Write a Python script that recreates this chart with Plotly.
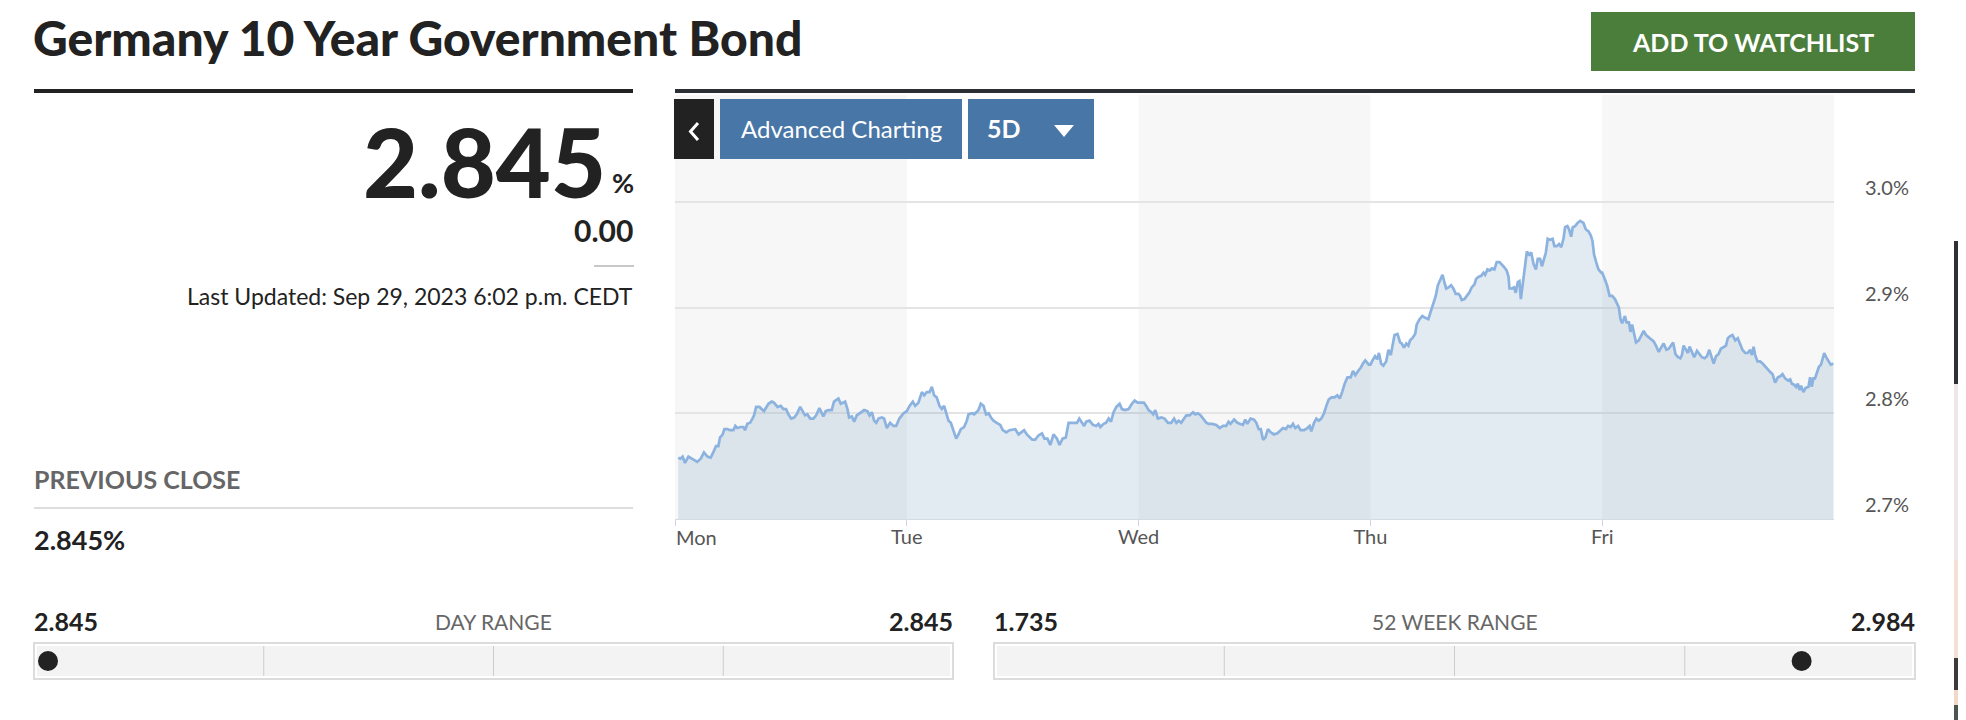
import plotly.graph_objects as go

# ---------------- data ----------------
day_labels = ["Mon", "Tue", "Wed", "Thu", "Fri"]

# position inside the day band (0..1) and yield in %
mon_pos = [0.014, 0.024, 0.033, 0.043, 0.058, 0.076, 0.096, 0.111, 0.125, 0.140,
           0.154, 0.165, 0.177, 0.187, 0.194, 0.206, 0.213, 0.226, 0.237, 0.252,
           0.260, 0.269, 0.283, 0.295, 0.302, 0.312, 0.324, 0.334, 0.341, 0.350,
           0.364, 0.384, 0.403, 0.417, 0.427, 0.442, 0.456, 0.468, 0.479, 0.489,
           0.501, 0.514, 0.525, 0.540, 0.551, 0.561, 0.571, 0.583, 0.597, 0.609,
           0.623, 0.633, 0.640, 0.650, 0.662, 0.676, 0.686, 0.705, 0.715, 0.724,
           0.734, 0.744, 0.751, 0.763, 0.773, 0.784, 0.799, 0.816, 0.830, 0.839,
           0.849, 0.859, 0.868, 0.878, 0.892, 0.902, 0.914, 0.928, 0.942, 0.954,
           0.968, 0.986]
mon_val = [2.758, 2.757, 2.759, 2.753, 2.759, 2.757, 2.754, 2.757, 2.763, 2.759,
           2.758, 2.763, 2.769, 2.769, 2.777, 2.780, 2.785, 2.785, 2.784, 2.784,
           2.788, 2.786, 2.787, 2.787, 2.784, 2.790, 2.791, 2.795, 2.798, 2.806,
           2.806, 2.802, 2.809, 2.811, 2.810, 2.806, 2.807, 2.804, 2.804, 2.799,
           2.795, 2.796, 2.799, 2.806, 2.801, 2.798, 2.799, 2.795, 2.795, 2.798,
           2.805, 2.801, 2.797, 2.802, 2.803, 2.803, 2.811, 2.814, 2.809, 2.810,
           2.811, 2.804, 2.796, 2.797, 2.792, 2.798, 2.800, 2.803, 2.802, 2.798,
           2.801, 2.793, 2.791, 2.795, 2.796, 2.795, 2.786, 2.791, 2.788, 2.788,
           2.795, 2.800]

tue_pos = [0.000, 0.012, 0.026, 0.036, 0.050, 0.065, 0.075, 0.086, 0.098, 0.108,
           0.118, 0.129, 0.141, 0.151, 0.161, 0.170, 0.180, 0.190, 0.201, 0.213,
           0.223, 0.233, 0.247, 0.259, 0.266, 0.281, 0.291, 0.302, 0.309, 0.319,
           0.331, 0.342, 0.353, 0.363, 0.374, 0.388, 0.403, 0.414, 0.429, 0.443,
           0.458, 0.468, 0.482, 0.492, 0.506, 0.518, 0.529, 0.541, 0.554, 0.568,
           0.583, 0.594, 0.607, 0.619, 0.633, 0.648, 0.659, 0.672, 0.686, 0.698,
           0.708, 0.719, 0.734, 0.744, 0.755, 0.765, 0.774, 0.788, 0.803, 0.817,
           0.827, 0.835, 0.849, 0.860, 0.871, 0.881, 0.892, 0.904, 0.918, 0.928,
           0.942, 0.957, 0.971, 0.983, 0.996]
tue_val = [2.802, 2.807, 2.811, 2.807, 2.810, 2.820, 2.817, 2.820, 2.820, 2.825,
           2.817, 2.815, 2.807, 2.804, 2.807, 2.799, 2.793, 2.791, 2.783, 2.776,
           2.780, 2.785, 2.787, 2.793, 2.799, 2.800, 2.799, 2.801, 2.803, 2.809,
           2.807, 2.799, 2.800, 2.796, 2.793, 2.791, 2.789, 2.784, 2.782, 2.784,
           2.785, 2.785, 2.780, 2.782, 2.784, 2.780, 2.778, 2.775, 2.775, 2.779,
           2.781, 2.776, 2.776, 2.770, 2.780, 2.776, 2.770, 2.776, 2.777, 2.791,
           2.791, 2.791, 2.791, 2.795, 2.791, 2.788, 2.792, 2.793, 2.789, 2.788,
           2.790, 2.787, 2.790, 2.791, 2.795, 2.792, 2.801, 2.806, 2.809, 2.804,
           2.803, 2.804, 2.809, 2.812, 2.810]

wed_pos = [0.004, 0.023, 0.033, 0.043, 0.055, 0.063, 0.072, 0.083, 0.098, 0.112,
           0.127, 0.141, 0.153, 0.163, 0.173, 0.184, 0.196, 0.206, 0.220, 0.235,
           0.245, 0.256, 0.268, 0.278, 0.292, 0.302, 0.317, 0.335, 0.350, 0.364,
           0.378, 0.388, 0.397, 0.412, 0.426, 0.436, 0.450, 0.460, 0.469, 0.483,
           0.498, 0.508, 0.518, 0.527, 0.537, 0.547, 0.558, 0.570, 0.584, 0.599,
           0.613, 0.623, 0.635, 0.645, 0.656, 0.666, 0.676, 0.688, 0.699, 0.714,
           0.728, 0.738, 0.745, 0.757, 0.767, 0.777, 0.788, 0.800, 0.810, 0.820,
           0.832, 0.846, 0.857, 0.868, 0.878, 0.889, 0.901, 0.915, 0.925, 0.935,
           0.947, 0.958, 0.968, 0.978, 0.993]
wed_val = [2.810, 2.810, 2.807, 2.803, 2.801, 2.799, 2.803, 2.795, 2.796, 2.795,
           2.791, 2.791, 2.795, 2.791, 2.793, 2.791, 2.795, 2.798, 2.798, 2.801,
           2.799, 2.800, 2.798, 2.795, 2.791, 2.790, 2.790, 2.789, 2.786, 2.788,
           2.788, 2.792, 2.790, 2.794, 2.791, 2.790, 2.789, 2.794, 2.790, 2.795,
           2.794, 2.791, 2.785, 2.785, 2.775, 2.777, 2.785, 2.782, 2.780, 2.781,
           2.784, 2.786, 2.785, 2.788, 2.787, 2.790, 2.786, 2.788, 2.784, 2.784,
           2.786, 2.788, 2.783, 2.791, 2.795, 2.793, 2.795, 2.800, 2.807, 2.813,
           2.815, 2.815, 2.817, 2.814, 2.820, 2.828, 2.834, 2.834, 2.840, 2.836,
           2.840, 2.843, 2.847, 2.850, 2.846]

thu_pos = [0.000, 0.009, 0.020, 0.029, 0.037, 0.046, 0.056, 0.068, 0.078, 0.088,
           0.096, 0.104, 0.117, 0.128, 0.135, 0.145, 0.155, 0.164, 0.171, 0.181,
           0.193, 0.200, 0.212, 0.224, 0.239, 0.250, 0.260, 0.272, 0.282, 0.291,
           0.301, 0.311, 0.319, 0.327, 0.337, 0.348, 0.358, 0.368, 0.380, 0.387,
           0.394, 0.406, 0.416, 0.426, 0.437, 0.449, 0.456, 0.466, 0.478, 0.488,
           0.495, 0.505, 0.514, 0.524, 0.535, 0.545, 0.557, 0.567, 0.578, 0.588,
           0.596, 0.600, 0.610, 0.620, 0.627, 0.636, 0.643, 0.649, 0.658, 0.668,
           0.675, 0.685, 0.694, 0.704, 0.714, 0.722, 0.732, 0.740, 0.750, 0.757,
           0.765, 0.775, 0.786, 0.794, 0.804, 0.814, 0.823, 0.833, 0.840, 0.850,
           0.857, 0.866, 0.873, 0.883, 0.894, 0.905, 0.919, 0.929, 0.941, 0.951,
           0.958, 0.965, 0.974, 0.984, 0.996]
thu_val = [2.846, 2.850, 2.854, 2.851, 2.857, 2.847, 2.845, 2.849, 2.860, 2.855,
           2.864, 2.874, 2.875, 2.867, 2.866, 2.862, 2.866, 2.864, 2.869, 2.871,
           2.875, 2.884, 2.889, 2.892, 2.890, 2.889, 2.896, 2.905, 2.911, 2.921,
           2.927, 2.931, 2.924, 2.918, 2.919, 2.921, 2.918, 2.913, 2.913, 2.911,
           2.907, 2.908, 2.911, 2.914, 2.919, 2.922, 2.927, 2.929, 2.930, 2.933,
           2.931, 2.936, 2.935, 2.937, 2.936, 2.943, 2.943, 2.941, 2.938, 2.935,
           2.929, 2.918, 2.918, 2.919, 2.914, 2.924, 2.925, 2.908, 2.922, 2.941,
           2.953, 2.950, 2.952, 2.941, 2.936, 2.946, 2.946, 2.939, 2.947, 2.952,
           2.965, 2.964, 2.965, 2.958, 2.958, 2.960, 2.957, 2.965, 2.976, 2.977,
           2.974, 2.967, 2.976, 2.977, 2.980, 2.982, 2.980, 2.974, 2.972, 2.968,
           2.963, 2.950, 2.943, 2.936, 2.933]

fri_pos = [0.000, 0.011, 0.021, 0.032, 0.043, 0.055, 0.065, 0.072, 0.079, 0.086,
           0.098, 0.105, 0.115, 0.122, 0.129, 0.136, 0.146, 0.158, 0.169, 0.179,
           0.189, 0.201, 0.212, 0.222, 0.232, 0.244, 0.254, 0.265, 0.277, 0.287,
           0.297, 0.306, 0.316, 0.327, 0.337, 0.344, 0.351, 0.362, 0.370, 0.377,
           0.387, 0.397, 0.409, 0.419, 0.430, 0.442, 0.452, 0.462, 0.471, 0.481,
           0.491, 0.502, 0.512, 0.524, 0.534, 0.542, 0.552, 0.562, 0.574, 0.585,
           0.595, 0.605, 0.617, 0.628, 0.638, 0.646, 0.653, 0.660, 0.670, 0.681,
           0.692, 0.703, 0.714, 0.725, 0.735, 0.746, 0.758, 0.768, 0.778, 0.789,
           0.801, 0.811, 0.818, 0.828, 0.836, 0.844, 0.851, 0.858, 0.868, 0.878,
           0.890, 0.897, 0.904, 0.911, 0.918, 0.925, 0.935, 0.944, 0.951, 0.958,
           0.966, 0.976, 0.986, 0.997]
fri_val = [2.933, 2.927, 2.921, 2.911, 2.911, 2.908, 2.904, 2.900, 2.889, 2.885,
           2.892, 2.886, 2.886, 2.877, 2.884, 2.878, 2.867, 2.869, 2.874, 2.878,
           2.874, 2.872, 2.870, 2.868, 2.864, 2.858, 2.862, 2.866, 2.860, 2.861,
           2.864, 2.867, 2.856, 2.853, 2.852, 2.855, 2.864, 2.860, 2.857, 2.863,
           2.858, 2.853, 2.859, 2.856, 2.853, 2.852, 2.854, 2.860, 2.853, 2.847,
           2.854, 2.856, 2.861, 2.863, 2.864, 2.871, 2.873, 2.874, 2.869, 2.871,
           2.866, 2.860, 2.857, 2.857, 2.860, 2.855, 2.863, 2.855, 2.849, 2.849,
           2.847, 2.844, 2.842, 2.839, 2.837, 2.829, 2.834, 2.835, 2.837, 2.833,
           2.831, 2.832, 2.828, 2.827, 2.825, 2.828, 2.822, 2.826, 2.820, 2.824,
           2.825, 2.834, 2.825, 2.833, 2.833, 2.838, 2.844, 2.846, 2.852, 2.857,
           2.853, 2.849, 2.846, 2.847]

y_ticks = [2.7, 2.8, 2.9, 3.0]
y_tick_text = ["2.7%", "2.8%", "2.9%", "3.0%"]

title = "Germany 10 Year Government Bond"
last_yield = "2.845"
change = "0.00"
updated = "Last Updated: Sep 29, 2023 6:02 p.m. CEDT"
prev_close = "2.845%"
day_low, day_high, day_now = 2.845, 2.845, 2.845
wk_low, wk_high, wk_now = 1.735, 2.984, 2.845

# ---------------- build figure ----------------
# the page body has an 8px margin, so the figure starts at (8, 8) of the window;
# all positions below are window pixels
OFF = 8
WIN_W, WIN_H = 1966, 720
W, H = WIN_W - OFF, WIN_H - OFF
L, R, T, B = 675, 1834, 95, 519   # plot area in window pixels
FONT = "Lato"
HEAVY = "Lato Black, Lato Heavy, Lato"


def px(x):
    return (x - L) / (R - L)


def py(y):
    return (B - y) / (B - T)


days = [mon_pos, tue_pos, wed_pos, thu_pos, fri_pos]
vals = [mon_val, tue_val, wed_val, thu_val, fri_val]
xs, ys = [], []
for i, (p, v) in enumerate(zip(days, vals)):
    xs += [i + t for t in p]
    ys += v

fig = go.Figure()
fig.add_trace(go.Scatter(
    x=xs, y=ys, mode="lines",
    line=dict(color="#8cb3df", width=2.7),
    fill="tozeroy", fillcolor="rgba(110,150,190,0.2)",
    hoverinfo="skip",
))

# alternating day bands
for i in range(0, len(day_labels), 2):
    fig.add_shape(type="rect", xref="x", yref="paper", x0=i, x1=i + 1, y0=0, y1=1,
                  fillcolor="#f7f7f7", line_width=0, layer="below")


def box(x0, y0, x1, y1, color, line_color=None, line_width=0):
    fig.add_shape(type="rect", xref="paper", yref="paper",
                  x0=px(x0), x1=px(x1), y0=py(y1), y1=py(y0),
                  fillcolor=color, line=dict(color=line_color or color, width=line_width))


def text(s, x, base, size, color="#222222", weight=400, anchor="left", family=FONT):
    fig.add_annotation(text=s, x=px(x), y=py(base - 0.387 * size),
                       xref="paper", yref="paper", xanchor=anchor, yanchor="middle",
                       showarrow=False, borderpad=0,
                       font=dict(family=family, size=size, color=color, weight=weight))


# header
text(title, 32, 56, 48, weight=900, family=HEAVY)
box(1591, 12, 1915, 71, "#4b7d3b")
text("ADD TO WATCHLIST", 1753, 52, 25, color="white", weight=700, anchor="center")

# rules
box(34, 89, 633, 93, "#222222")
box(675, 89, 1915, 93, "#2b2e33")

# quote block
text(last_yield, 607, 198, 95, weight=900, anchor="right", family=HEAVY)
text("%", 635, 193, 27, weight=700, anchor="right")
text(change, 634, 242, 30, weight=700, anchor="right")
box(594, 265, 634, 267, "#c8c8c8")
text(updated, 634, 305, 23, anchor="right")

text("PREVIOUS CLOSE", 33, 489, 25, color="#666666", weight=700)
box(34, 507, 633, 509, "#dddddd")
text(prev_close, 33, 550, 27, weight=700)

# chart buttons
box(674, 99, 714, 159, "#222222")
fig.add_shape(type="path", xref="paper", yref="paper",
              path=f"M {px(698)},{py(123)} L {px(690.5)},{py(131.5)} L {px(698)},{py(140)}",
              line=dict(color="white", width=3))
box(720, 99, 962, 159, "#4876a6")
text("Advanced Charting", 841, 138, 24, color="white", anchor="center")
box(968, 99, 1094, 159, "#4876a6")
text("5D", 986, 138, 25, color="white", weight=700)
fig.add_shape(type="path", xref="paper", yref="paper",
              path=f"M {px(1054)},{py(125)} L {px(1074)},{py(125)} L {px(1064)},{py(137)} Z",
              fillcolor="white", line_width=0)

# Mon label, left-justified at the axis start
fig.add_annotation(text=day_labels[0], x=0, xref="x", y=py(545 - 0.387 * 20), yref="paper",
                   xanchor="left", yanchor="middle", showarrow=False, borderpad=0,
                   font=dict(family=FONT, size=20, color="#555555"))


# range bars
def range_bar(x0, x1, lo, hi, now, label):
    y0, y1 = 643, 679
    box(x0, y0, x1, y1, "white", "#dcdcdc", 2)
    box(x0 + 3, y0 + 3, x1 - 3, y1 - 3, "#f3f3f3")
    for k in range(1, 4):
        xx = x0 + (x1 - x0) * k / 4
        fig.add_shape(type="line", xref="paper", yref="paper",
                      x0=px(xx), x1=px(xx), y0=py(y0 + 3), y1=py(y1 - 3),
                      line=dict(color="#cccccc", width=1))
    frac = (now - lo) / (hi - lo) if hi > lo else 0
    cx = x0 + 14 + frac * (x1 - x0 - 28)
    cy = (y0 + y1) / 2
    fig.add_shape(type="circle", xref="paper", yref="paper",
                  x0=px(cx - 10), x1=px(cx + 10), y0=py(cy + 10), y1=py(cy - 10),
                  fillcolor="#222222", line_width=0)
    text(f"{lo:.3f}", x0 - 1, 631, 25, weight=700)
    text(f"{hi:.3f}", x1 + 1, 631, 25, weight=700, anchor="right")
    text(label, (x0 + x1) / 2, 630, 21, color="#666666", anchor="center")


range_bar(34, 953, day_low, day_high, day_now, "DAY RANGE")
range_bar(994, 1915, wk_low, wk_high, wk_now, "52 WEEK RANGE")

# edge of a neighbouring page element
box(1954, 241, 1966, 384, "#2f2f37")
box(1954, 384, 1966, 560, "#ede7ea")
box(1954, 560, 1966, 658, "#f3e1d4")
box(1954, 658, 1966, 690, "#3d3b3a")
box(1954, 690, 1966, 705, "#f0d9c6")
box(1954, 705, 1966, 720, "#4a5550")

fig.update_layout(
    width=W, height=H, autosize=False,
    margin=dict(l=L - OFF, r=WIN_W - R, t=T - OFF, b=WIN_H - B, pad=0),
    paper_bgcolor="white", plot_bgcolor="white",
    showlegend=False,
    font=dict(family=FONT, color="#555555"),
    xaxis=dict(
        range=[0, len(day_labels)], tickvals=list(range(len(day_labels))),
        ticktext=[""] + day_labels[1:], showgrid=False, zeroline=False,
        showline=True, linecolor="#d5dbe3", linewidth=1,
        ticks="outside", ticklen=6, tickcolor="#ccd6eb", tickwidth=1,
        ticklabelstandoff=-6,
        tickfont=dict(family=FONT, size=20, color="#555555"),
        fixedrange=True,
    ),
    yaxis=dict(
        range=[2.7, 3.101], side="right", tickvals=y_ticks, ticktext=y_tick_text,
        showgrid=True, gridcolor="#e4e4e4", gridwidth=2, zeroline=False,
        showline=False, ticks="", ticklabelposition="outside top",
        ticklabelstandoff=30,
        tickfont=dict(family=FONT, size=20, color="#555555"),
        fixedrange=True,
    ),
)

fig.write_html("out.html")
